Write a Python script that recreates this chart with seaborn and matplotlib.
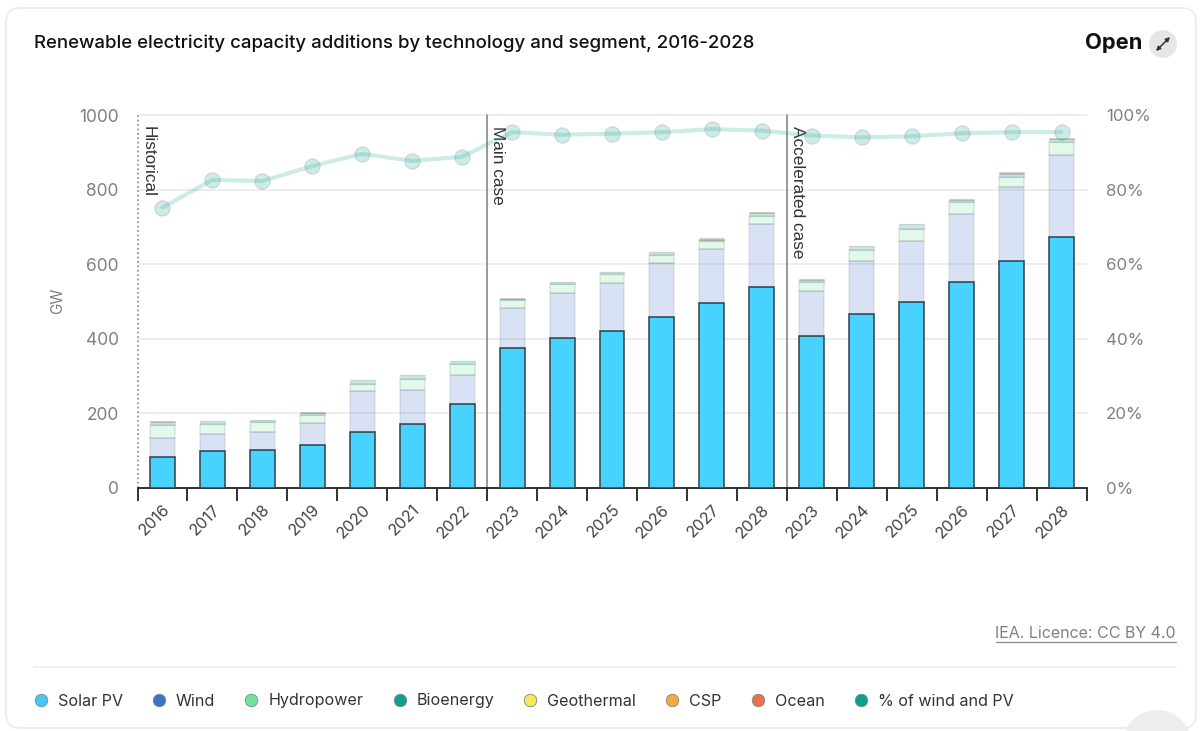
import matplotlib
matplotlib.use('Agg')
import matplotlib.pyplot as plt
from matplotlib.lines import Line2D
from matplotlib.patches import Circle, FancyBboxPatch
import seaborn as sns
import pandas as pd
import numpy as np

years = [2016, 2017, 2018, 2019, 2020, 2021, 2022,
         2023, 2024, 2025, 2026, 2027, 2028,
         2023, 2024, 2025, 2026, 2027, 2028]

# GW
solar = [83, 98, 101, 116, 149, 172, 226,
         374, 403, 422, 458, 495, 539,
         407, 466, 499, 553, 609, 674]
wind = [51, 48, 48, 59, 110, 91, 77,
        108, 121, 128, 145, 146, 168,
        121, 142, 163, 182, 197, 219]
hydro = [34, 26, 27, 20, 19, 29, 29,
         21, 22, 25, 23, 21, 21,
         24, 29, 33, 31, 28, 34]
bioenergy = [10, 7, 6, 6, 11, 11, 8,
             3, 6, 3, 7, 4, 8,
             6, 11, 12, 7, 8, 9]
csp = [1, 1, 1, 3, 1, 1, 1,
       4, 1, 1, 1, 4, 4,
       3, 1, 1, 1, 4, 1]
share = [75.2, 82.6, 82.3, 86.3, 89.6, 87.7, 88.8,
         95.4, 94.7, 95.0, 95.4, 96.2, 95.8,
         94.5, 94.0, 94.3, 95.1, 95.4, 95.4]

segments = ['Historical', 'Main case', 'Accelerated case']
legend_names = ['Solar PV', 'Wind', 'Hydropower', 'Bioenergy',
                'Geothermal', 'CSP', 'Ocean', '% of wind and PV']
legend_colors = ['#45c9f5', '#3f70c8', '#6fe49b', '#0b9f90',
                 '#fbe74f', '#f5a93b', '#ef6f4b', '#0b9f90']

sns.set_theme(style='white')
plt.rcParams['font.family'] = ['Inter', 'DejaVu Sans']

W, H = 1203, 731
fig = plt.figure(figsize=(W / 100, H / 100), dpi=100, facecolor='white')

# page furniture is laid out in pixels on a full size axes
bg = fig.add_axes([0, 0, 1, 1], zorder=0)
bg.set_xlim(0, W)
bg.set_ylim(H, 0)
bg.axis('off')
bg.add_patch(FancyBboxPatch((6, 8), 1190, 720, boxstyle='round,pad=0,rounding_size=14',
                            fc='white', ec='#ececec', lw=1.3))
bg.add_patch(Circle((1157, 745), 35, fc='#eeeeee', ec='none'))
bg.add_patch(Circle((1163, 44), 14, fc='#e6e6e6', ec='none'))
bg.annotate('', xy=(1170, 37), xytext=(1156, 51),
            arrowprops=dict(arrowstyle='<|-|>', color='#333333', lw=1.1,
                            mutation_scale=6, shrinkA=0, shrinkB=0))
bg.text(34, 43, 'Renewable electricity capacity additions by technology and segment, 2016-2028',
        fontsize=13.4, fontweight=500, color='#111111', va='center')
bg.text(1142, 43, 'Open', fontsize=15.8, fontweight=700, color='#111111', va='center', ha='right')
bg.text(1176, 633, 'IEA. Licence: CC BY 4.0', fontsize=11.5, color='#808080', va='center', ha='right')
bg.plot([996, 1176], [642, 642], color='#909090', lw=1)
bg.plot([34, 1176], [667, 667], color='#eeeeee', lw=1.3)
bg.text(58, 301, 'GW', fontsize=11, color='#808080', rotation=90, va='center', ha='center')

df = pd.DataFrame({
    'slot': [str(i) for i in range(len(years))],
    'solar': solar, 'wind': wind, 'hydro': hydro, 'bioenergy': bioenergy, 'csp': csp,
})

ax = fig.add_axes([137.5 / W, 1 - 488 / H, 949 / W, 373 / H], zorder=1)
ax.patch.set_alpha(0)

layers = [('solar', '#47d2ff', '#36474f', 1.15),
          ('wind', (0.247, 0.44, 0.784, 0.2), (0, 0, 0, 0.07), 1.2),
          ('hydro', (0.435, 0.894, 0.608, 0.2), (0, 0, 0, 0.09), 1.2),
          ('bioenergy', (0.043, 0.62, 0.565, 0.22), (0, 0, 0, 0.07), 1.0),
          ('csp', (0.3, 0.3, 0.2, 0.35), (0, 0, 0, 0.07), 0.8)]
base = np.zeros(len(df))
for col, face, edge, lw in layers:
    sns.barplot(data=df, x='slot', y=col, ax=ax, bottom=base, width=0.5,
                color='white', saturation=1, linewidth=lw, edgecolor=edge, zorder=3)
    for patch in ax.containers[-1]:
        patch.set_facecolor(face)
    base = base + df[col].to_numpy()

ax.set_xlim(-0.5, len(years) - 0.5)
ax.set_ylim(0, 1000)
ax.set_xlabel('')
ax.set_ylabel('')
ax.yaxis.grid(True, color='#e8e8e8', lw=1.1, zorder=0)
ax.set_axisbelow(True)
sns.despine(ax=ax, left=True, right=True, top=True)
ax.spines['bottom'].set_color('#111111')
ax.spines['bottom'].set_linewidth(1.2)

ax.set_yticks(range(0, 1001, 200))
ax.tick_params(axis='y', length=0, pad=13.5, labelsize=12.5, labelcolor='#808080')
for line in ax.get_ygridlines():
    line.set_clip_on(False)
ax.set_xticks(range(len(years)))
ax.set_xticklabels(years, rotation=45, ha='right', rotation_mode='anchor',
                   fontsize=11.7, color='#444444')
ax.tick_params(axis='x', which='major', length=0, pad=10)
ax.set_xticks(np.arange(-0.5, len(years)), minor=True)
ax.tick_params(axis='x', which='minor', length=9, width=1.2, color='#111111', bottom=True)

for x, style, name in zip([-0.5, 6.5, 12.5], [':', '-', '-'], segments):
    ax.axvline(x, color='#888888', lw=1.2, ls=style, zorder=2, clip_on=False)
    ax.text(x + 0.06, 970, name, rotation=-90, va='top', ha='left', fontsize=12.4,
            family='Liberation Sans', color='#333333', zorder=6)

ax2 = ax.twinx()
ax2.patch.set_alpha(0)
sns.lineplot(x=np.arange(len(share)), y=share, ax=ax2, color='#0b9f90', alpha=0.2, lw=3,
             marker='o', markersize=11, markeredgecolor='#777777', markeredgewidth=1)
ax2.set_ylim(0, 100)
ax2.set_yticks(range(0, 101, 20))
ax2.set_yticklabels([f'{v}%' for v in range(0, 101, 20)])
ax2.tick_params(axis='y', length=0, pad=14, labelsize=12.2, labelcolor='#808080')
ax2.grid(False)
sns.despine(ax=ax2, left=True, right=True, top=True, bottom=True)

handles = [Line2D([], [], ls='', marker='o', markersize=9, markerfacecolor=c,
                  markeredgecolor='#7a8a8a', markeredgewidth=0.6) for c in legend_colors]
fig.legend(handles, legend_names, loc='center left', bbox_to_anchor=(31 / W, 1 - 701 / H),
           ncols=8, frameon=False, fontsize=11.6, labelcolor='#333333', handletextpad=0.45,
           columnspacing=1.65, handlelength=1.2, borderpad=0, borderaxespad=0)

fig.savefig('out.png', dpi=100)
